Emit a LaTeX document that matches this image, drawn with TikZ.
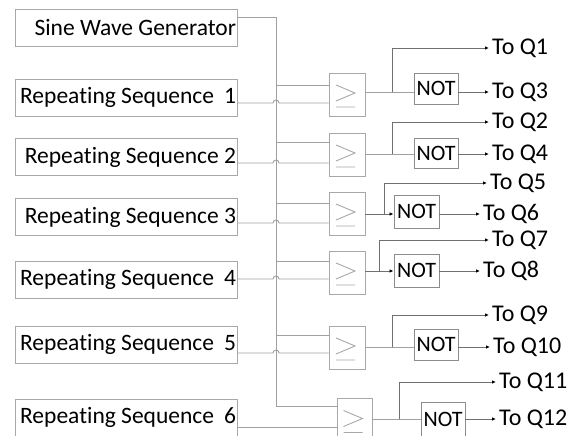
\documentclass[tikz,border=0pt]{standalone}
\usepackage{fontspec}
\setmainfont{Carlito}[Ligatures=NoCommon]
\usetikzlibrary{arrows.meta}
\definecolor{wiregray}{HTML}{A0A0A0}
\definecolor{boxgray}{HTML}{A8A8A8}
\definecolor{notgray}{HTML}{8C8C8C}
\tikzset{
  >={Latex[length=4pt,width=3.5pt,color=black]},
  wire/.style = {draw=wiregray, line width=0.9pt},
  sigwire/.style = {draw=wiregray!70!black, line width=0.9pt, ->},
  srcbox/.style = {draw=boxgray, line width=0.9pt, text width=220pt,
    align=flush right, inner xsep=1pt, inner ysep=0pt, minimum height=37pt,
    font=\fontsize{23.5}{26}\selectfont},
  cmpbox/.style = {draw=boxgray, line width=0.9pt, minimum width=36pt,
    minimum height=43pt, inner sep=0pt,
    path picture={
      \draw[boxgray, line width=0.9pt, shift={(path picture bounding box.center)}]
        (-11,-9.5) -- (8,-1.5) -- (-11,6.5) (-11,12.5) -- (8,12.5);
    }},
  notbox/.style = {draw=notgray, line width=0.9pt, minimum width=44pt,
    minimum height=31pt, inner sep=0pt, font=\fontsize{22}{24}\selectfont},
  qlabel/.style = {anchor=west, inner xsep=3pt, inner ysep=0pt,
    font=\fontsize{24}{26}\selectfont}
}
\newcommand{\hopwire}[3]{% source node, hop point, gate node
  \draw[wire] (#1.east |- #2) -- ([xshift=-3pt]#2)
    arc[start angle=180, end angle=0, radius=3pt] -- (#3.west |- #2);}

\begin{document}
\begin{tikzpicture}[x=1pt, y=-1pt]
  \useasboundingbox (0,0) rectangle (576,436);

  % sources
  \node[srcbox] (sine) at (126,27.5) {\mbox{Sine Wave Generator}};
  \node[srcbox] (rs1) at (126,97.5) {\mbox{Repeating Sequence\hspace{0.2em} 1}};
  \node[srcbox] (rs2) at (126,157) {\mbox{Repeating Sequence 2}};
  \node[srcbox] (rs3) at (126,217) {\mbox{Repeating Sequence 3}};
  \node[srcbox] (rs4) at (126,279.5) {\mbox{Repeating Sequence\hspace{0.2em} 4}};
  \node[srcbox] (rs5) at (126,344.5) {\mbox{Repeating Sequence\hspace{0.2em} 5}};
  \node[srcbox] (rs6) at (126,417.5) {\mbox{Repeating Sequence\hspace{0.2em} 6}};

  % comparators
  \node[cmpbox] (cmp1) at (347,94.5) {};
  \node[cmpbox] (cmp2) at (347,154.5) {};
  \node[cmpbox] (cmp3) at (347,213.5) {};
  \node[cmpbox] (cmp4) at (347,272.5) {};
  \node[cmpbox] (cmp5) at (347,347.5) {};
  \node[cmpbox, minimum width=35pt] (cmp6) at (354.5,420) {};

  % inverters
  \node[notbox] (not1) at (436,88.5) {NOT};
  \node[notbox, minimum height=30pt] (not2) at (436,153) {NOT};
  \node[notbox, minimum width=45pt, minimum height=33pt] (not3) at (416.5,211.5) {NOT};
  \node[notbox, minimum width=45pt, minimum height=33pt] (not4) at (416.5,270.5) {NOT};
  \node[notbox] (not5) at (436,344.5) {NOT};
  \node[notbox, minimum height=34pt] (not6) at (443,419) {NOT};

  % outputs
  \node[qlabel] (q1) at (489,48) {To Q1};
  \node[qlabel] (q3) at (489,92) {To Q3};
  \node[qlabel] (q2) at (489,122) {To Q2};
  \node[qlabel] (q4) at (489,154) {To Q4};
  \node[qlabel] (q5) at (487,183) {To Q5};
  \node[qlabel] (q6) at (480,214) {To Q6};
  \node[qlabel] (q7) at (489,240) {To Q7};
  \node[qlabel] (q8) at (480,271) {To Q8};
  \node[qlabel] (q9) at (489,315) {To Q9};
  \node[qlabel] (q10) at (490,347) {To Q10};
  \node[qlabel] (q11) at (496,382) {To Q11};
  \node[qlabel] (q12) at (496,419) {To Q12};

  % sine bus
  \coordinate (bustop) at (276,17);
  \coordinate (busbot) at (276,406);
  \draw[wire] (sine.east |- bustop) -- (bustop) -- (busbot) -- (cmp6.west |- busbot);
  \coordinate (tap1) at (276,85);
  \coordinate (tap2) at (276,142);
  \coordinate (tap3) at (276,203);
  \coordinate (tap4) at (276,261);
  \coordinate (tap5) at (276,335);
  \draw[wire] (tap1) -- (cmp1.west |- tap1);
  \draw[wire] (tap2) -- (cmp2.west |- tap2);
  \draw[wire] (tap3) -- (cmp3.west |- tap3);
  \draw[wire] (tap4) -- (cmp4.west |- tap4);
  \draw[wire] (tap5) -- (cmp5.west |- tap5);

  % carriers, hopping over the bus
  \coordinate (hop1) at (276,103);
  \coordinate (hop2) at (276,163);
  \coordinate (hop3) at (276,223);
  \coordinate (hop4) at (276,279);
  \coordinate (hop5) at (276,353);
  \hopwire{rs1}{hop1}{cmp1}
  \hopwire{rs2}{hop2}{cmp2}
  \hopwire{rs3}{hop3}{cmp3}
  \hopwire{rs4}{hop4}{cmp4}
  \hopwire{rs5}{hop5}{cmp5}
  \draw[wire] (rs6.east |- 0,427) -- (cmp6.west |- 0,427);

  % comparator outputs
  \coordinate (split1) at (392,92);
  \coordinate (split2) at (392,154);
  \coordinate (split3) at (384,214);
  \coordinate (split4) at (379,271);
  \coordinate (split5) at (392,347);
  \coordinate (split6) at (399,419);
  \draw[wire] (cmp1.east |- split1) -- (not1.west |- split1);
  \draw[wire] (cmp2.east |- split2) -- (not2.west |- split2);
  \draw[sigwire] (cmp3.east |- split3) -- (not3.west |- split3);
  \draw[sigwire] (cmp4.east |- split4) -- (not4.west |- split4);
  \draw[wire] (cmp5.east |- split5) -- (not5.west |- split5);
  \draw[wire] (cmp6.east |- split6) -- (not6.west |- split6);

  % direct branches
  \draw[sigwire] (split1) |- (q1.west);
  \draw[sigwire] (split2) |- (q2.west);
  \draw[sigwire] (split3) |- (q5.west);
  \draw[sigwire] (split4) |- (q7.west);
  \draw[sigwire] (split5) |- (q9.west);
  \draw[sigwire] (split6) |- (q11.west);

  % inverted branches
  \draw[sigwire] (not1.east |- q3) -- (q3.west);
  \draw[sigwire] (not2.east |- q4) -- (q4.west);
  \draw[sigwire] (not3.east |- q6) -- (q6.west);
  \draw[sigwire] (not4.east |- q8) -- (q8.west);
  \draw[sigwire] (not5.east |- q10) -- (q10.west);
  \draw[sigwire] (not6.east |- q12) -- (q12.west);
\end{tikzpicture}
\end{document}
